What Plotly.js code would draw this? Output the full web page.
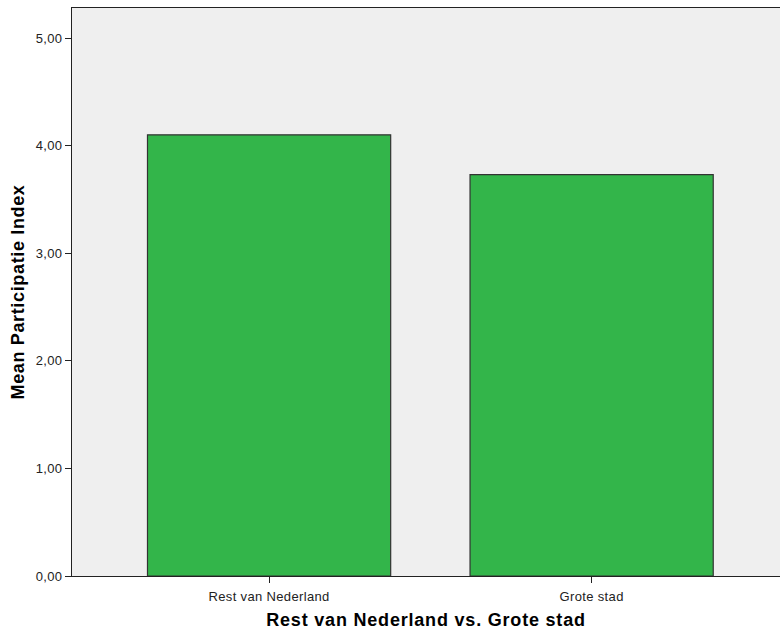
<!DOCTYPE html>
<html>
<head>
<meta charset="utf-8">
<script src="https://cdn.plot.ly/plotly-3.0.1.min.js"></script>
<style>
html,body{margin:0;padding:0;background:#fff;}
#chart{width:780px;height:630px;}
.xtick text, .ytick text { letter-spacing: 0.35px; }
.g-xtitle text { letter-spacing: 0.8px; }
.g-ytitle text { letter-spacing: 0.65px; }
</style>
</head>
<body>
<div id="chart"></div>
<script>
const categories = ["Rest van Nederland", "Grote stad"];
const meanValues = [4.10, 3.73];
const yTickValues = [0, 1, 2, 3, 4, 5];

const trace = {
  type: 'bar',
  x: categories,
  y: meanValues,
  width: 0.754,
  marker: { color: '#33b54a', line: { color: '#333333', width: 1.2 } },
  hoverinfo: 'x+y'
};

const layout = {
  width: 780, height: 630,
  margin: { l: 72, r: 0, t: 8, b: 54 },
  paper_bgcolor: '#ffffff',
  plot_bgcolor: '#efefef',
  separators: ',.',
  font: { family: 'Liberation Sans, Arial, sans-serif', color: '#222' },
  showlegend: false,
  xaxis: {
    range: [-0.611, 1.584],
    showline: true, linecolor: '#222', linewidth: 1, mirror: true,
    ticks: 'outside', ticklen: 6, tickcolor: '#222', tickwidth: 1,
    ticklabelstandoff: 2,
    showgrid: false, zeroline: false,
    tickfont: { size: 13, color: '#222' },
    title: { text: 'Rest van Nederland vs. Grote stad', font: { size: 18, color: '#000', weight: 'bold' }, standoff: 12 }
  },
  yaxis: {
    range: [0, 5.279],
    tickvals: yTickValues,
    tickformat: '.2f',
    showline: true, linecolor: '#222', linewidth: 1,
    ticks: 'outside', ticklen: 6, tickcolor: '#222', tickwidth: 1,
    showgrid: false, zeroline: false,
    tickfont: { size: 13, color: '#222' },
    title: { text: 'Mean Participatie Index', font: { size: 18, color: '#000', weight: 'bold' }, standoff: 6 }
  }
};

Plotly.newPlot('chart', [trace], layout, { displayModeBar: false, staticPlot: true });
</script>
</body>
</html>
